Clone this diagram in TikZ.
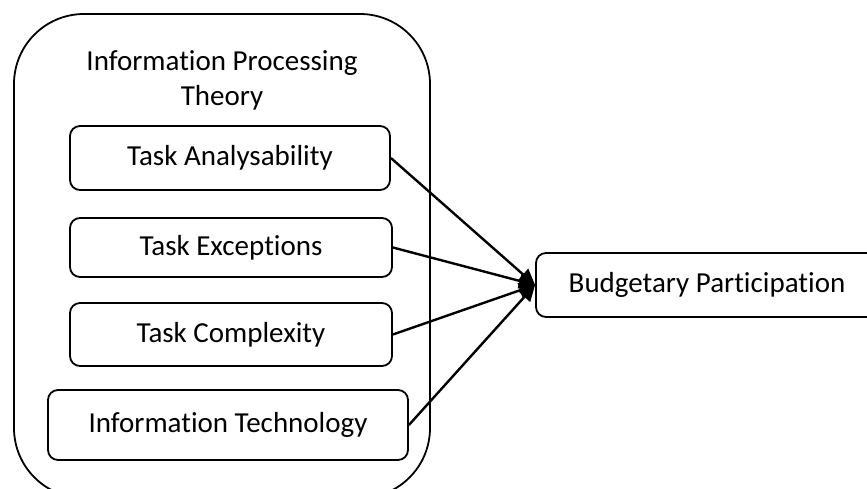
\documentclass[tikz,border=0pt]{standalone}
\usepackage{fontspec}
\setmainfont[Ligatures={NoCommon}]{Carlito}
\usetikzlibrary{arrows.meta}
\begin{document}
\begin{tikzpicture}[x=1pt,y=-1pt,
  every node/.style={font=\fontsize{29}{35}\selectfont},
  innerbox/.style={draw, line width=1.8pt, rounded corners=10pt, inner sep=0pt, align=center},
  outerbox/.style={draw, line width=1.8pt, rounded corners=70pt, inner sep=0pt},
  link/.style={line width=2.4pt, -{Triangle[length=16pt,width=15pt]}}]
\useasboundingbox (0,0) rectangle (867,489);
\node[outerbox, minimum width=416pt, minimum height=484pt] (outer) at (222,256) {};
\node[align=center] (title) at (222,80) {Information Processing\\Theory};
\node[innerbox, minimum width=320pt, minimum height=64pt] (ta) at (230,158) {Task Analysability};
\node[innerbox, minimum width=322pt, minimum height=59pt] (te) at (231,247.5) {Task Exceptions};
\node[innerbox, minimum width=322pt, minimum height=63pt] (tc) at (231,334.5) {Task Complexity};
\node[innerbox, minimum width=360pt, minimum height=70pt] (it) at (228,425) {Information Technology};
\node[innerbox, minimum width=342pt, minimum height=64pt] (bp) at (707,285) {Budgetary Participation};
\draw[link] (ta.east) -- (bp.west);
\draw[link] (te.east) -- (bp.west);
\draw[link] (tc.east) -- (bp.west);
\draw[link] (it.east) -- (bp.west);
\end{tikzpicture}
\end{document}
